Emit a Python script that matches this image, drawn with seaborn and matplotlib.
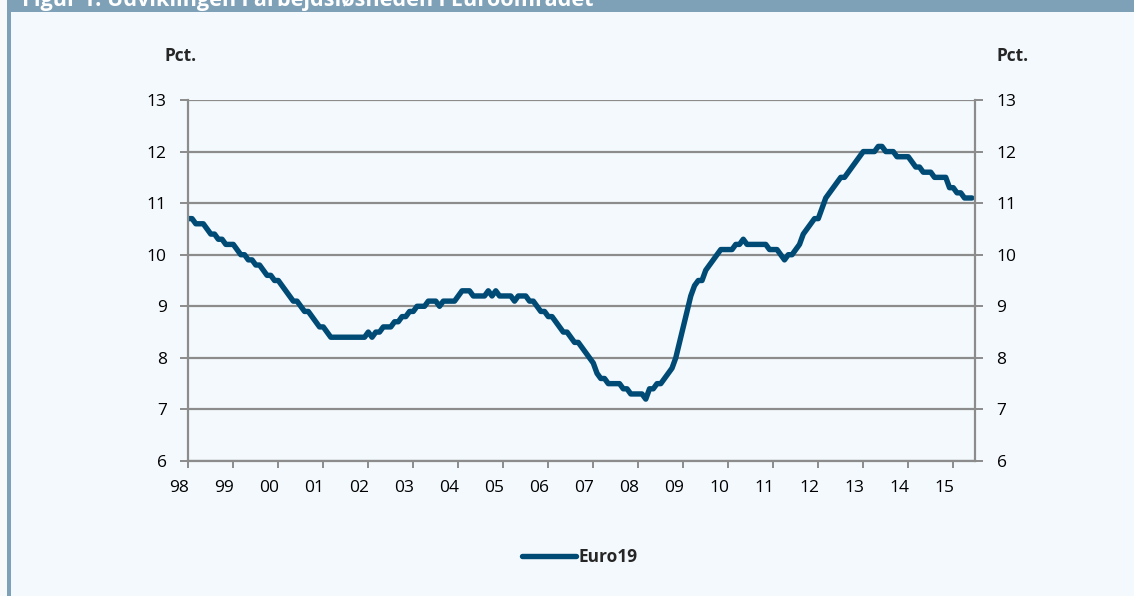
import numpy as np
import pandas as pd
import matplotlib
matplotlib.use("Agg")
import matplotlib.pyplot as plt
import seaborn as sns
from matplotlib.patches import Rectangle
from matplotlib.lines import Line2D
from matplotlib.transforms import ScaledTranslation

# Monthly unemployment rate, Euro19 (pct.), Jan 1998 - Jun 2015
y1998 = [10.7, 10.7, 10.6, 10.6, 10.6, 10.5, 10.4, 10.4, 10.3, 10.3, 10.2, 10.2]
y1999 = [10.2, 10.1, 10.0, 10.0, 9.9, 9.9, 9.8, 9.8, 9.7, 9.6, 9.6, 9.5]
y2000 = [9.5, 9.4, 9.3, 9.2, 9.1, 9.1, 9.0, 8.9, 8.9, 8.8, 8.7, 8.6]
y2001 = [8.6, 8.5, 8.4, 8.4, 8.4, 8.4, 8.4, 8.4, 8.4, 8.4, 8.4, 8.4]
y2002 = [8.5, 8.4, 8.5, 8.5, 8.6, 8.6, 8.6, 8.7, 8.7, 8.8, 8.8, 8.9]
y2003 = [8.9, 9.0, 9.0, 9.0, 9.1, 9.1, 9.1, 9.0, 9.1, 9.1, 9.1, 9.1]
y2004 = [9.2, 9.3, 9.3, 9.3, 9.2, 9.2, 9.2, 9.2, 9.3, 9.2, 9.3, 9.2]
y2005 = [9.2, 9.2, 9.2, 9.1, 9.2, 9.2, 9.2, 9.1, 9.1, 9.0, 8.9, 8.9]
y2006 = [8.8, 8.8, 8.7, 8.6, 8.5, 8.5, 8.4, 8.3, 8.3, 8.2, 8.1, 8.0]
y2007 = [7.9, 7.7, 7.6, 7.6, 7.5, 7.5, 7.5, 7.5, 7.4, 7.4, 7.3, 7.3]
y2008 = [7.3, 7.3, 7.2, 7.4, 7.4, 7.5, 7.5, 7.6, 7.7, 7.8, 8.0, 8.3]
y2009 = [8.6, 8.9, 9.2, 9.4, 9.5, 9.5, 9.7, 9.8, 9.9, 10.0, 10.1, 10.1]
y2010 = [10.1, 10.1, 10.2, 10.2, 10.3, 10.2, 10.2, 10.2, 10.2, 10.2, 10.2, 10.1]
y2011 = [10.1, 10.1, 10.0, 9.9, 10.0, 10.0, 10.1, 10.2, 10.4, 10.5, 10.6, 10.7]
y2012 = [10.7, 10.9, 11.1, 11.2, 11.3, 11.4, 11.5, 11.5, 11.6, 11.7, 11.8, 11.9]
y2013 = [12.0, 12.0, 12.0, 12.0, 12.1, 12.1, 12.0, 12.0, 12.0, 11.9, 11.9, 11.9]
y2014 = [11.9, 11.8, 11.7, 11.7, 11.6, 11.6, 11.6, 11.5, 11.5, 11.5, 11.5, 11.3]
y2015 = [11.3, 11.2, 11.2, 11.1, 11.1, 11.1]

year_labels = ["98", "99", "00", "01", "02", "03", "04", "05", "06",
               "07", "08", "09", "10", "11", "12", "13", "14", "15"]
y_ticks = [6, 7, 8, 9, 10, 11, 12, 13]
series_name = "Euro19"
unit_label = "Pct."
title_text = "Figur 1. Udviklingen i arbejdsløsheden i Euroområdet"

values = (y1998 + y1999 + y2000 + y2001 + y2002 + y2003 + y2004 + y2005 + y2006
          + y2007 + y2008 + y2009 + y2010 + y2011 + y2012 + y2013 + y2014 + y2015)

df = pd.DataFrame({"month": np.arange(len(values)), "value": values, "series": series_name})

sns.set_theme(style="white")
plt.rcParams["font.family"] = ["Open Sans", "DejaVu Sans"]

W, H = 1134, 596
BG = "#f4f9fd"
BAR = "#7fa1b7"
LINE = "#004b76"
GRID = "#8c8c8c"
FS = 12.5

fig = plt.figure(figsize=(W / 100, H / 100), dpi=100, facecolor=BG)

# frame decorations
fig.add_artist(Rectangle((0, 0), 7 / W, 1, transform=fig.transFigure, color="#f7f9fb", lw=0, zorder=0))
fig.add_artist(Rectangle((7 / W, 1 - 12 / H), 1, 12 / H, transform=fig.transFigure, color=BAR, lw=0, zorder=1))
fig.add_artist(Rectangle((7 / W, 0), 4 / W, 1, transform=fig.transFigure, color=BAR, lw=0, zorder=1))
fig.text(22 / W, 1 - 6 / H, title_text, color="white", fontsize=15.6, fontweight="bold",
         ha="left", va="baseline", zorder=2)

left, right, top, bottom = 188.3, 975, 100, 461
ax = fig.add_axes([left / W, 1 - bottom / H, (right - left) / W, (bottom - top) / H])
ax.set_facecolor(BG)

sns.lineplot(data=df, x="month", y="value", hue="series", palette=[LINE], linewidth=3.9,
             ax=ax, legend=False, solid_capstyle="round", solid_joinstyle="round")

ax.set_xlim(0, 209.8)
ax.set_ylim(6, 13)
ax.set_yticks(y_ticks)
ax.set_yticklabels([str(t) for t in y_ticks])
ax.set_xticks(np.arange(0, 12 * len(year_labels), 12))
ax.set_xticklabels(year_labels)
ax.set_xlabel("")
ax.set_ylabel("")

ax.yaxis.grid(True, color=GRID, lw=1.6)
ax.xaxis.grid(False)
ax.set_axisbelow(True)
for s in ["left", "right", "bottom"]:
    ax.spines[s].set_visible(True)
    ax.spines[s].set_color(GRID)
    ax.spines[s].set_linewidth(1.6)
ax.spines["top"].set_visible(False)

ax.tick_params(axis="y", left=True, right=True, labelleft=True, labelright=True,
               direction="out", length=5.5, width=1.4, color=GRID, pad=10,
               labelsize=FS, labelcolor="black")
ax.tick_params(axis="x", bottom=True, direction="out", length=5, width=1.4, color=GRID,
               pad=9, labelsize=FS, labelcolor="black")

# year labels sit slightly left of their tick marks
shift = ScaledTranslation(-9 / 100, 0, fig.dpi_scale_trans)
for lab in ax.get_xticklabels():
    lab.set_transform(lab.get_transform() + shift)

fig.text(165 / W, 1 - 56 / H, unit_label, fontsize=FS, fontweight="bold", ha="left", va="center")
fig.text(997 / W, 1 - 56 / H, unit_label, fontsize=FS, fontweight="bold", ha="left", va="center")

handle = Line2D([], [], color=LINE, lw=3.9, solid_capstyle="round")
fig.legend([handle], [series_name], loc="center", bbox_to_anchor=(580 / W, 1 - 557 / H),
           frameon=False, prop={"weight": "bold", "size": FS}, handlelength=3.1,
           handletextpad=0.15)

fig.savefig("out.png", dpi=100, facecolor=BG)
